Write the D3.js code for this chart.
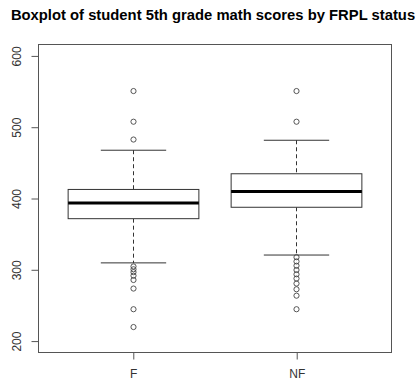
<!DOCTYPE html>
<html>
<head>
<meta charset="utf-8">
<script src="https://cdn.jsdelivr.net/npm/d3@7"></script>
<style>
  html, body { margin: 0; padding: 0; background: #fff; }
  svg { display: block; }
</style>
</head>
<body>
<svg id="chart" width="415" height="383"></svg>
<script>
// Five-number summaries and outliers of 5th grade math scores by FRPL status
const groups = ["F", "NF"];
const whiskerLow = [309, 320];
const q1 = [371, 387];
const median = [393, 409];
const q3 = [412, 434];
const whiskerHigh = [467, 481];
const outliersF = [550, 507, 482, 304, 300, 296, 291, 285, 273, 244, 219];
const outliersNF = [550, 507, 317, 311, 305, 299, 293, 287, 280, 272, 263, 244];
const yTicks = [200, 300, 400, 500, 600];
const title = "Boxplot of student 5th grade math scores by FRPL status";

const outliers = [outliersF, outliersNF];

const svg = d3.select("#chart");
const plot = { left: 38, right: 391, top: 44, bottom: 352 };

// R-style axis ranges: limits widened by 4% on each side
const yDomain = [200, 600];
const yPad = (yDomain[1] - yDomain[0]) * 0.04;
const y = d3.scaleLinear()
  .domain([yDomain[0] - yPad, yDomain[1] + yPad])
  .range([plot.bottom, plot.top]);

const xDomain = [0.5, groups.length + 0.5];
const xPad = (xDomain[1] - xDomain[0]) * 0.04;
const x = d3.scaleLinear()
  .domain([xDomain[0] - xPad, xDomain[1] + xPad])
  .range([plot.left, plot.right]);

const boxHalf = x(0.4) - x(0);
const stapleHalf = x(0.2) - x(0);

// Title
svg.append("text")
  .attr("x", 213)
  .attr("y", 20)
  .attr("text-anchor", "middle")
  .attr("font-family", "Liberation Sans, Arial, sans-serif")
  .attr("font-weight", "bold")
  .attr("font-size", 14.8)
  .attr("fill", "#000")
  .text(title);

// Plot frame
svg.append("rect")
  .attr("x", plot.left + 0.5)
  .attr("y", plot.top + 0.5)
  .attr("width", plot.right - plot.left)
  .attr("height", plot.bottom - plot.top)
  .attr("fill", "none")
  .attr("stroke", "#555")
  .attr("stroke-width", 1);

// Y axis
const yAxis = d3.axisLeft(y).tickValues(yTicks).tickSize(7).tickPadding(4);
const gy = svg.append("g")
  .attr("transform", `translate(${plot.left + 0.5},0.5)`)
  .call(yAxis);
gy.select(".domain").remove();
gy.selectAll(".tick line").attr("stroke", "#555");
gy.selectAll(".tick text")
  .attr("font-family", "Liberation Sans, Arial, sans-serif")
  .attr("font-size", 12)
  .attr("fill", "#333")
  .attr("text-anchor", "middle")
  .attr("dy", null)
  .attr("x", null)
  .attr("transform", "translate(-22,0) rotate(-90)")
  .attr("dominant-baseline", "central");

// X axis
const xAxis = d3.axisBottom(x)
  .tickValues(groups.map((g, i) => i + 1))
  .tickFormat((d) => groups[d - 1])
  .tickSize(7).tickPadding(10);
const gx = svg.append("g")
  .attr("transform", `translate(0.5,${plot.bottom + 0.5})`)
  .call(xAxis);
gx.select(".domain").remove();
gx.selectAll(".tick line").attr("stroke", "#555");
gx.selectAll(".tick text")
  .attr("font-family", "Liberation Sans, Arial, sans-serif")
  .attr("font-size", 12)
  .attr("fill", "#333");

// Boxes
const g = svg.append("g");
groups.forEach((name, i) => {
  const cx = Math.round(x(i + 1)) + 0.5;
  const stroke = "#333";

  // dashed whiskers
  g.append("line")
    .attr("x1", cx).attr("x2", cx)
    .attr("y1", y(whiskerHigh[i])).attr("y2", y(q3[i]))
    .attr("stroke", stroke).attr("stroke-dasharray", "4,3");
  g.append("line")
    .attr("x1", cx).attr("x2", cx)
    .attr("y1", y(q1[i])).attr("y2", y(whiskerLow[i]))
    .attr("stroke", stroke).attr("stroke-dasharray", "4,3");

  // staples
  [whiskerHigh[i], whiskerLow[i]].forEach((v) => {
    g.append("line")
      .attr("x1", cx - stapleHalf).attr("x2", cx + stapleHalf)
      .attr("y1", y(v)).attr("y2", y(v))
      .attr("stroke", stroke);
  });

  // box
  g.append("rect")
    .attr("x", cx - boxHalf)
    .attr("y", y(q3[i]))
    .attr("width", boxHalf * 2)
    .attr("height", y(q1[i]) - y(q3[i]))
    .attr("fill", "#fff")
    .attr("stroke", stroke);

  // median
  g.append("line")
    .attr("x1", cx - boxHalf).attr("x2", cx + boxHalf)
    .attr("y1", y(median[i])).attr("y2", y(median[i]))
    .attr("stroke", "#000").attr("stroke-width", 3);

  // outliers
  g.selectAll(null)
    .data(outliers[i])
    .enter()
    .append("circle")
    .attr("cx", cx)
    .attr("cy", (d) => y(d))
    .attr("r", 2.6)
    .attr("fill", "none")
    .attr("stroke", "#444")
    .attr("stroke-width", 0.9);
});
</script>
</body>
</html>
